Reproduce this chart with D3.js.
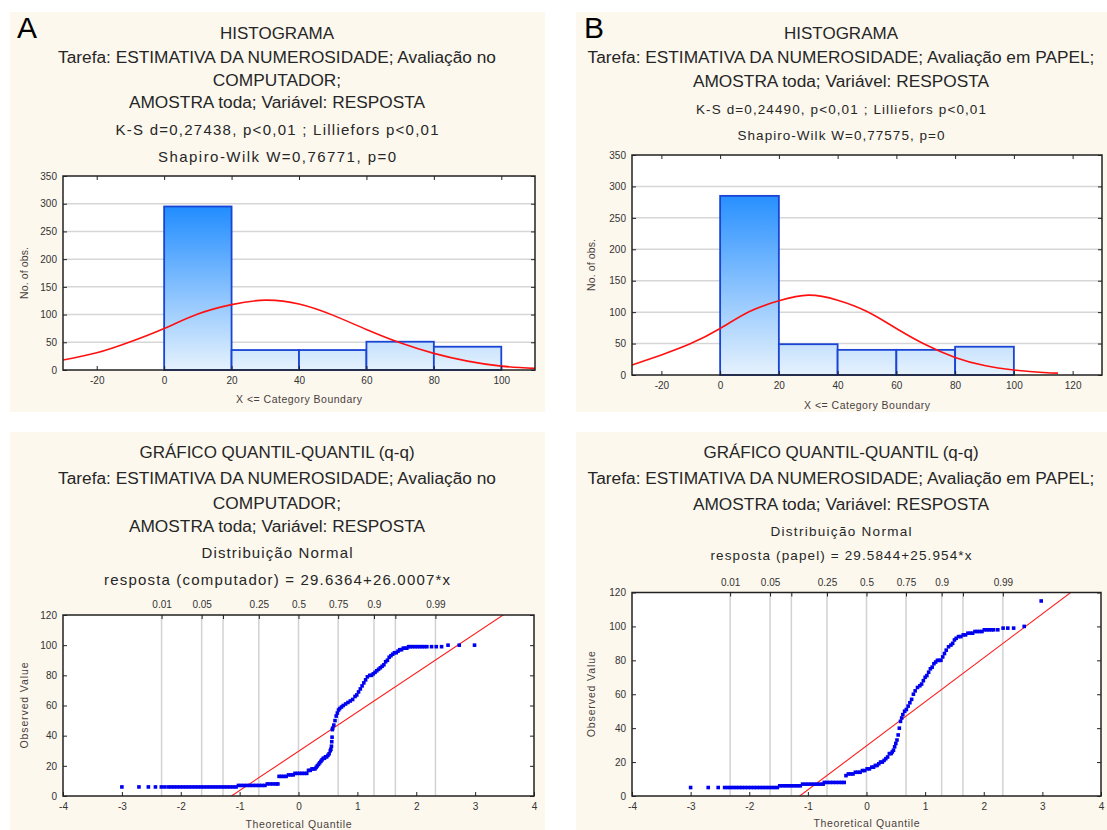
<!DOCTYPE html>
<html><head><meta charset="utf-8">
<script src="https://cdn.jsdelivr.net/npm/d3@7"></script>
<style>
html,body{margin:0;padding:0;background:#fff;}
svg{display:block;font-family:"Liberation Sans",Arial,sans-serif;}
</style></head><body>
<svg id="chart" width="1107" height="830"></svg>
<script>
// ---------------- DATA ----------------
const histEdges = [0, 20, 40, 60, 80, 100];
const histCountsA = [295, 36, 36, 51, 42];
const histCountsB = [285, 49, 40, 40, 45];
const histYTicks = [0, 50, 100, 150, 200, 250, 300, 350];
const histXTicksA = [-20, 0, 20, 40, 60, 80, 100];
const histXTicksB = [-20, 0, 20, 40, 60, 80, 100, 120];
// fitted normal curve
const curveXA = [-30, -20, -10, 0, 10, 20, 30, 40, 50, 60, 70, 80, 90, 100, 110];
const curveYA = [18, 31, 51, 75, 101, 118, 126, 119, 99, 73, 49, 30, 16, 7, 3];
const curveXB = [-30, -20, -10, 0, 10, 20, 30, 40, 50, 60, 70, 80, 90, 100, 110, 115];
const curveYB = [16, 32, 50, 74, 101, 118, 127, 119, 101, 74, 48, 28, 15, 8, 4, 3];

const qqXTicks = [-4, -3, -2, -1, 0, 1, 2, 3, 4];
const qqYTicks = [0, 20, 40, 60, 80, 100, 120];
const quantileZ = [-2.326, -1.645, -1.282, -0.674, 0, 0.674, 1.282, 1.645, 2.326];
const quantileLabels = ["0.01", "0.05", "", "0.25", "0.5", "0.75", "0.9", "", "0.99"];
const fitA = [29.6364, 26.0007]; // intercept, slope
const fitB = [29.5844, 25.954];

// [theoretical quantile, observed value]
const qqPointsA = [
[-3.00,6],[-2.71,6],[-2.55,6],[-2.43,6],[-2.33,6],[-2.27,6],[-2.21,6],[-2.16,6],[-2.11,6],[-2.06,6],[-2.01,6],[-1.96,6],[-1.91,6],[-1.86,6],[-1.81,6],[-1.76,6],[-1.71,6],[-1.66,6],[-1.61,6],[-1.56,6],[-1.51,6],[-1.46,6],[-1.41,6],[-1.36,6],[-1.31,6],[-1.26,6],[-1.21,6],[-1.16,6],[-1.11,6],[-1.06,6],
[-1.02,7],[-0.97,7],[-0.92,7],[-0.87,7],[-0.82,7],[-0.77,7],[-0.72,7],[-0.67,7],[-0.62,7],[-0.57,7],
[-0.53,8],[-0.48,8],[-0.43,8],[-0.38,8],[-0.35,8],
[-0.33,13],[-0.29,13],[-0.25,13],[-0.21,13],[-0.17,14],[-0.13,14],[-0.09,14],
[-0.06,15],[-0.02,15],[0.02,15],[0.06,15],[0.10,15],[0.14,15],
[0.17,17],[0.20,17],[0.23,18],[0.26,18],
[0.28,18],[0.30,19],[0.32,20],[0.34,21],[0.36,22],[0.38,23],[0.40,24],[0.42,25],[0.44,25],[0.46,26],[0.48,26],[0.50,27],[0.52,28],[0.54,30],[0.55,31],
[0.56,33],[0.565,36],[0.57,39],
[0.575,44],[0.58,45],[0.60,47],[0.62,50],[0.64,53],[0.66,55],[0.68,57],[0.70,58],[0.73,59],[0.76,60],[0.80,61],[0.84,62],[0.88,63],[0.92,64],[0.96,66],[0.99,67],[1.02,69],[1.05,71],[1.08,73],[1.11,75],[1.14,77],[1.17,79],[1.21,80],[1.24,80],[1.27,81],[1.30,82],[1.33,83],[1.36,84],[1.39,85],[1.42,86],[1.45,87],[1.48,89],[1.51,90],[1.54,92],[1.57,93],[1.60,94],[1.63,95],[1.66,95],[1.69,96],[1.72,97],[1.75,97],[1.78,98],[1.81,98],[1.84,98],[1.87,99],[1.90,99],[1.94,99],[1.98,99],[2.02,99],[2.06,99],[2.10,99],[2.14,99],[2.18,99],[2.26,99],[2.34,99],[2.43,99],[2.54,100],[2.73,100],[2.99,100]
];
const qqPointsB = [
[-3.00,5],[-2.70,5],[-2.53,5],[-2.42,5],[-2.37,5],[-2.32,5],[-2.27,5],[-2.22,5],[-2.17,5],[-2.12,5],[-2.07,5],[-2.02,5],[-1.97,5],[-1.92,5],[-1.87,5],[-1.82,5],[-1.77,5],[-1.72,5],[-1.67,5],[-1.62,5],[-1.57,5],[-1.52,5],
[-1.48,6],[-1.43,6],[-1.38,6],[-1.33,6],[-1.28,6],[-1.23,6],[-1.18,6],[-1.13,6],
[-1.09,7],[-1.04,7],[-0.99,7],[-0.94,7],[-0.89,7],[-0.84,7],[-0.79,7],[-0.74,7],
[-0.72,8],[-0.67,8],[-0.62,8],[-0.57,8],[-0.52,8],[-0.47,8],[-0.42,8],[-0.38,8],
[-0.35,12],[-0.31,13],[-0.27,13],[-0.23,13],[-0.19,14],[-0.15,14],[-0.11,14],[-0.07,15],[-0.03,15],[0.01,16],[0.05,16],[0.09,17],[0.12,17],[0.15,18],[0.18,18],[0.21,19],[0.24,20],[0.27,20],[0.30,21],[0.33,22],[0.36,23],[0.39,25],[0.42,25],[0.44,26],[0.46,27],[0.48,29],[0.50,31],[0.52,33],[0.54,36],[0.56,40],[0.58,44],[0.60,46],[0.62,48],[0.65,50],[0.68,51],[0.71,53],[0.74,55],[0.77,57],[0.80,60],[0.83,62],[0.87,64],[0.91,65],[0.94,66],[0.97,68],[1.00,70],[1.03,71],[1.06,73],[1.09,75],[1.12,76],[1.15,78],[1.18,79],[1.21,80],[1.24,80],[1.27,80],[1.30,82],[1.33,84],[1.36,86],[1.40,88],[1.44,89],[1.47,90],[1.50,92],[1.53,93],[1.57,94],[1.61,94],[1.65,95],[1.69,95],[1.73,96],[1.77,96],[1.81,96],[1.85,97],[1.89,97],[1.93,97],[1.97,97],[2.01,98],[2.05,98],[2.09,98],[2.13,98],[2.17,98],[2.24,98],[2.33,99],[2.41,99],[2.51,99],[2.69,100],[2.98,115]
];

const titlesHistA = ["HISTOGRAMA", "Tarefa: ESTIMATIVA DA NUMEROSIDADE; Avaliação no", "COMPUTADOR;", "AMOSTRA toda; Variável: RESPOSTA", "K-S d=0,27438, p<0,01 ; Lilliefors p<0,01", "Shapiro-Wilk W=0,76771, p=0"];
const titlesHistB = ["HISTOGRAMA", "Tarefa: ESTIMATIVA DA NUMEROSIDADE; Avaliação em PAPEL;", "AMOSTRA toda; Variável: RESPOSTA", "K-S d=0,24490, p<0,01 ; Lilliefors p<0,01", "Shapiro-Wilk W=0,77575, p=0"];
const titlesQQA = ["GRÁFICO QUANTIL-QUANTIL (q-q)", "Tarefa: ESTIMATIVA DA NUMEROSIDADE; Avaliação no", "COMPUTADOR;", "AMOSTRA toda; Variável: RESPOSTA", "Distribuição Normal", "resposta (computador) = 29.6364+26.0007*x"];
const titlesQQB = ["GRÁFICO QUANTIL-QUANTIL (q-q)", "Tarefa: ESTIMATIVA DA NUMEROSIDADE; Avaliação em PAPEL;", "AMOSTRA toda; Variável: RESPOSTA", "Distribuição Normal", "resposta (papel) = 29.5844+25.954*x"];

// ---------------- DRAWING ----------------
const svg = d3.select("#chart");
const defs = svg.append("defs");
const BG = "#fcf8ee", TXT = "#262626", LAB = "#333";

function panel(x, y, w, h) {
  svg.append("rect").attr("x", x).attr("y", y).attr("width", w).attr("height", h).attr("fill", BG);
}
function titles(cx, texts, ys, sizes, lens) {
  texts.forEach((t, i) => {
    const el = svg.append("text").attr("x", cx).attr("y", ys[i]).attr("text-anchor", "middle")
      .attr("fill", TXT).style("font-size", sizes[i] + "px").text(t);
    if (lens && lens[i]) el.attr("textLength", lens[i]).attr("lengthAdjust", "spacing");
  });
}
function axisStyle(g, size) {
  g.attr("font-family", null).attr("font-size", null);
  g.select(".domain").remove();
  g.selectAll(".tick line").attr("stroke", "#222").attr("stroke-width", 1);
  g.selectAll(".tick text").attr("fill", LAB).style("font-size", (size || 10) + "px");
}
function axisTitle(x, y, text, rotate, len) {
  const el = svg.append("text").attr("text-anchor", "middle").attr("fill", "#4a4040")
    .style("font-size", "10.5px").attr("dy", "0.35em").text(text)
    .attr("transform", `translate(${x},${y})` + (rotate ? " rotate(-90)" : ""));
  if (len) el.attr("textLength", len).attr("lengthAdjust", "spacing");
}

function drawHist(L) {
  const x = d3.scaleLinear().domain(L.xDomain).range([L.x0, L.x1]);
  const y = d3.scaleLinear().domain([0, 350]).range([L.y1, L.y0]);
  svg.append("rect").attr("x", L.x0).attr("y", L.y0).attr("width", L.x1 - L.x0).attr("height", L.y1 - L.y0).attr("fill", "#fff");
  svg.append("g").selectAll("line").data(histYTicks.filter(v => v > 0 && v < 350)).join("line")
    .attr("x1", L.x0).attr("x2", L.x1).attr("y1", d => y(d)).attr("y2", d => y(d))
    .attr("stroke", "#d6d6d6").attr("stroke-width", 1.5);
  const grad = defs.append("linearGradient").attr("id", L.id).attr("gradientUnits", "userSpaceOnUse")
    .attr("x1", 0).attr("x2", 0).attr("y1", y(0)).attr("y2", y(300));
  grad.append("stop").attr("offset", "0%").attr("stop-color", "#e6f2fd");
  grad.append("stop").attr("offset", "100%").attr("stop-color", "#1e8bff");
  svg.append("g").selectAll("rect").data(L.counts).join("rect")
    .attr("x", (d, i) => x(histEdges[i])).attr("width", (d, i) => x(histEdges[i + 1]) - x(histEdges[i]))
    .attr("y", d => y(d)).attr("height", d => y(0) - y(d))
    .attr("fill", `url(#${L.id})`).attr("stroke", "#1a44d4").attr("stroke-width", 1.8);
  const cp = defs.append("clipPath").attr("id", L.id + "c");
  cp.append("rect").attr("x", L.x0).attr("y", L.y0).attr("width", L.x1 - L.x0).attr("height", L.y1 - L.y0);
  const pts = L.cx.map((v, i) => [v, L.cy[i]]);
  svg.append("path").datum(pts).attr("clip-path", `url(#${L.id}c)`)
    .attr("d", d3.line().x(d => x(d[0])).y(d => y(d[1])).curve(d3.curveNatural))
    .attr("fill", "none").attr("stroke", "#ff1010").attr("stroke-width", 1.6);
  svg.append("rect").attr("x", L.x0).attr("y", L.y0).attr("width", L.x1 - L.x0).attr("height", L.y1 - L.y0)
    .attr("fill", "none").attr("stroke", "#222").attr("stroke-width", 1.5);
  axisStyle(svg.append("g").attr("transform", `translate(0,${L.y1})`)
    .call(d3.axisBottom(x).tickValues(L.xTicks).tickSize(-4).tickPadding(7).tickFormat(d => String(d))));
  axisStyle(svg.append("g").attr("transform", `translate(0,${L.y0})`)
    .call(d3.axisTop(x).tickValues(L.xTicks).tickSize(-4).tickFormat("")));
  axisStyle(svg.append("g").attr("transform", `translate(${L.x0},0)`)
    .call(d3.axisLeft(y).tickValues(histYTicks).tickSize(-4).tickPadding(6).tickFormat(d => String(d))));
  axisStyle(svg.append("g").attr("transform", `translate(${L.x1},0)`)
    .call(d3.axisRight(y).tickValues(histYTicks).tickSize(-4).tickFormat("")));
  axisTitle(L.yTitleX, (L.y0 + L.y1) / 2, "No. of obs.", true, 52);
  axisTitle((L.x0 + L.x1) / 2, L.xTitleY, "X <= Category Boundary", false, 126);
}

function drawQQ(L) {
  const x = d3.scaleLinear().domain([-4, 4]).range([L.x0, L.x1]);
  const y = d3.scaleLinear().domain([0, 120]).range([L.y1, L.y0]);
  svg.append("rect").attr("x", L.x0).attr("y", L.y0).attr("width", L.x1 - L.x0).attr("height", L.y1 - L.y0).attr("fill", "#fff");
  svg.append("g").selectAll("line").data(quantileZ).join("line")
    .attr("x1", d => x(d)).attr("x2", d => x(d)).attr("y1", L.y0).attr("y2", L.y1)
    .attr("stroke", "#d2d2d2").attr("stroke-width", 1.5);
  const cp = defs.append("clipPath").attr("id", L.id + "c");
  cp.append("rect").attr("x", L.x0).attr("y", L.y0).attr("width", L.x1 - L.x0).attr("height", L.y1 - L.y0);
  const fit = L.fit;
  svg.append("path").datum([-4, 4]).attr("clip-path", `url(#${L.id}c)`)
    .attr("d", d3.line().x(d => x(d)).y(d => y(fit[0] + fit[1] * d)))
    .attr("fill", "none").attr("stroke", "#ff1a1a").attr("stroke-width", 1.1);
  const s = 3.6;
  svg.append("g").attr("clip-path", `url(#${L.id}c)`).selectAll("rect").data(L.points).join("rect")
    .attr("x", d => x(d[0]) - s / 2).attr("y", d => y(d[1]) - s / 2).attr("width", s).attr("height", s)
    .attr("fill", "#0000f0");
  svg.append("rect").attr("x", L.x0).attr("y", L.y0).attr("width", L.x1 - L.x0).attr("height", L.y1 - L.y0)
    .attr("fill", "none").attr("stroke", "#222").attr("stroke-width", 1.5);
  axisStyle(svg.append("g").attr("transform", `translate(0,${L.y1})`)
    .call(d3.axisBottom(x).tickValues(qqXTicks).tickSize(-4).tickPadding(7).tickFormat(d => String(d))));
  axisStyle(svg.append("g").attr("transform", `translate(0,${L.y0})`)
    .call(d3.axisTop(x).tickValues(quantileZ).tickSize(-4).tickPadding(7).tickFormat((d, i) => quantileLabels[i])));
  axisStyle(svg.append("g").attr("transform", `translate(${L.x0},0)`)
    .call(d3.axisLeft(y).tickValues(qqYTicks).tickSize(-4).tickPadding(6).tickFormat(d => String(d))));
  axisStyle(svg.append("g").attr("transform", `translate(${L.x1},0)`)
    .call(d3.axisRight(y).tickValues(qqYTicks).tickSize(-4).tickFormat("")));
  axisTitle(L.yTitleX, (L.y0 + L.y1) / 2, "Observed Value", true, 86);
  axisTitle((L.x0 + L.x1) / 2, L.xTitleY, "Theoretical Quantile", false, 106);
}

// panels
panel(10, 12, 535, 400);
panel(576, 12, 531, 400);
panel(10, 432, 535, 398);
panel(576, 432, 531, 398);

svg.append("text").attr("x", 17).attr("y", 38).style("font-size", "30px").attr("fill", "#000").text("A");
svg.append("text").attr("x", 584).attr("y", 38).style("font-size", "30px").attr("fill", "#000").text("B");

titles(277, titlesHistA, [39, 63, 86, 108, 135, 162], [17, 17.3, 17.3, 17.3, 15, 15], [0, 0, 0, 0, 323, 238]);
titles(841, titlesHistB, [39, 63, 87, 114, 140], [17, 17.3, 17.3, 13.5, 13.5], [0, 0, 0, 290, 207]);
titles(277, titlesQQA, [458, 484, 509, 532, 558, 585], [17, 17.3, 17.3, 17.3, 15, 15], [0, 0, 0, 0, 151, 346]);
titles(841, titlesQQB, [458, 484, 510, 536, 560], [17, 17.3, 17.3, 13.5, 13.5], [0, 0, 0, 141, 261]);

drawHist({id: "hA", x0: 63, x1: 535, y0: 176, y1: 370, xDomain: [-30, 110], xTicks: histXTicksA,
  counts: histCountsA, cx: curveXA, cy: curveYA, yTitleX: 24, xTitleY: 399});
drawHist({id: "hB", x0: 632, x1: 1102, y0: 155, y1: 375, xDomain: [-30, 130], xTicks: histXTicksB,
  counts: histCountsB, cx: curveXB, cy: curveYB, yTitleX: 591, xTitleY: 405});
drawQQ({id: "qA", x0: 63, x1: 534, y0: 615, y1: 796, fit: fitA, points: qqPointsA, yTitleX: 24, xTitleY: 824});
drawQQ({id: "qB", x0: 632, x1: 1101, y0: 592.5, y1: 796, fit: fitB, points: qqPointsB, yTitleX: 591, xTitleY: 823});
</script></body></html>
